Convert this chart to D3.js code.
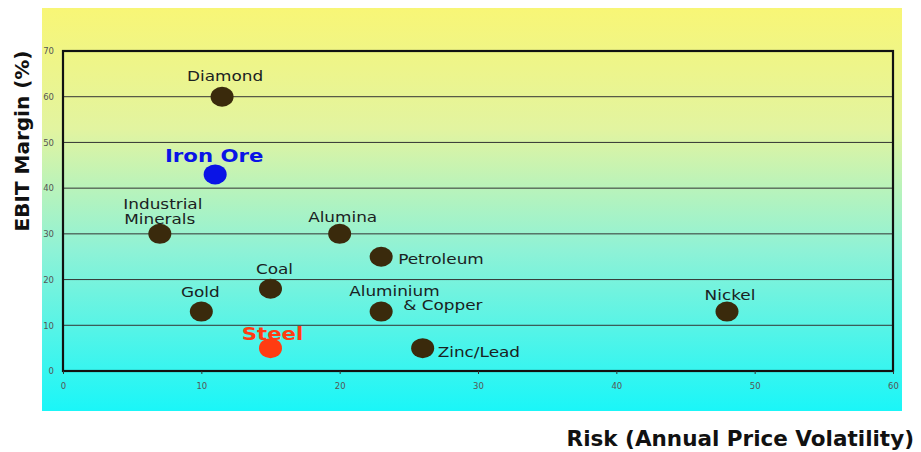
<!DOCTYPE html>
<html><head><meta charset="utf-8">
<script src="https://cdn.jsdelivr.net/npm/d3@7"></script>
<style>body{margin:0;background:#fff;}svg{display:block;}</style>
</head><body>
<svg id="c" width="921" height="452"></svg>
<script>
const names = ["Diamond","Iron Ore","Industrial Minerals","Alumina","Petroleum","Coal","Gold","Aluminium & Copper","Nickel","Steel","Zinc/Lead"];
const risk = [11.5, 11, 7, 20, 23, 15, 10, 23, 48, 15, 26];
const ebit = [60, 43, 30, 30, 25, 18, 13, 13, 13, 5, 5];
const xTicks = [0,10,20,30,40,50,60];
const yTicks = [0,10,20,30,40,50,60,70];

const FONT = "DejaVu Sans, Verdana, sans-serif";
const svg = d3.select("#c");
const defs = svg.append("defs");
const g = defs.append("linearGradient").attr("id","bg").attr("x1",0).attr("y1",0).attr("x2",0).attr("y2",1);
g.append("stop").attr("offset","0%").attr("stop-color","#f8f676");
g.append("stop").attr("offset","30%").attr("stop-color","#e2f4a0");
g.append("stop").attr("offset","60%").attr("stop-color","#8ff2d6");
g.append("stop").attr("offset","100%").attr("stop-color","#1af6f8");

svg.append("rect").attr("x",42).attr("y",8).attr("width",860).attr("height",403).attr("fill","url(#bg)");

const x = d3.scaleLinear().domain([0,60]).range([63,893]);
const y = d3.scaleLinear().domain([0,70]).range([371,51]);

// gridlines
svg.append("g").selectAll("line").data(yTicks.slice(1)).join("line")
  .attr("x1",x(0)).attr("x2",x(60)).attr("y1",d=>y(d)).attr("y2",d=>y(d))
  .attr("stroke","#333").attr("stroke-width",1);

// frame
svg.append("rect").attr("x",x(0)).attr("y",y(70)).attr("width",x(60)-x(0)).attr("height",y(0)-y(70))
  .attr("fill","none").attr("stroke","#111").attr("stroke-width",2.2);

// axes
const xa = svg.append("g").attr("transform",`translate(0,${y(0)})`)
  .call(d3.axisBottom(x).tickValues(xTicks).tickSize(3).tickPadding(9));
const ya = svg.append("g").attr("transform",`translate(${x(0)},0)`)
  .call(d3.axisLeft(y).tickValues(yTicks).tickSize(0).tickPadding(9));
[xa,ya].forEach(a=>{
  a.select(".domain").remove();
  a.selectAll("line").attr("stroke","#333");
  a.selectAll("text").attr("font-family",FONT).attr("font-size",8.5).attr("fill","#555");
});

// points
const col = n => n==="Iron Ore" ? "#0a14e6" : (n==="Steel" ? "#ff3c12" : "#3a2a0c");
const pts = names.map((n,i)=>({n, x:risk[i], y:ebit[i]}));
svg.append("g").selectAll("ellipse").data(pts).join("ellipse")
  .attr("cx",d=>x(d.x)).attr("cy",d=>y(d.y)).attr("rx",11.5).attr("ry",10)
  .attr("fill",d=>col(d.n));

// labels
const lab = {
  "Diamond": [{t:"Diamond",dx:3,dy:-16,a:"middle"}],
  "Iron Ore": [{t:"Iron Ore",dx:-1,dy:-12,a:"middle",b:true}],
  "Industrial Minerals": [{t:"Industrial",dx:3,dy:-25,a:"middle"},{t:"Minerals",dx:0,dy:-10,a:"middle"}],
  "Alumina": [{t:"Alumina",dx:3,dy:-12,a:"middle"}],
  "Petroleum": [{t:"Petroleum",dx:17,dy:7,a:"start"}],
  "Coal": [{t:"Coal",dx:4,dy:-15,a:"middle"}],
  "Gold": [{t:"Gold",dx:-1,dy:-15,a:"middle"}],
  "Aluminium & Copper": [{t:"Aluminium",dx:-32,dy:-16,a:"start"},{t:"& Copper",dx:22,dy:-2,a:"start"}],
  "Nickel": [{t:"Nickel",dx:3,dy:-12,a:"middle"}],
  "Steel": [{t:"Steel",dx:2,dy:-8,a:"middle",b:true}],
  "Zinc/Lead": [{t:"Zinc/Lead",dx:15,dy:9,a:"start"}]
};
const tg = svg.append("g");
pts.forEach(p=>{
  lab[p.n].forEach(l=>{
    tg.append("text")
      .attr("transform",`translate(${x(p.x)+l.dx},${y(p.y)+l.dy}) scale(1.25,1)`)
      .attr("text-anchor",l.a)
      .attr("font-family",FONT)
      .attr("font-size",l.b?17:13.5)
      .attr("font-weight",l.b?"bold":"normal")
      .attr("fill",l.b?col(p.n):"#1a2222")
      .text(l.t);
  });
});

// axis titles
svg.append("text").attr("transform","translate(29,141) rotate(-90)").attr("text-anchor","middle")
  .attr("font-family",FONT).attr("font-size",20).attr("font-weight","bold")
  .attr("fill","#111").text("EBIT Margin (%)");
svg.append("text").attr("x",914).attr("y",446).attr("text-anchor","end")
  .attr("font-family",FONT).attr("font-size",21.5).attr("font-weight","bold")
  .attr("fill","#111").text("Risk (Annual Price Volatility)");
</script>
</body></html>
